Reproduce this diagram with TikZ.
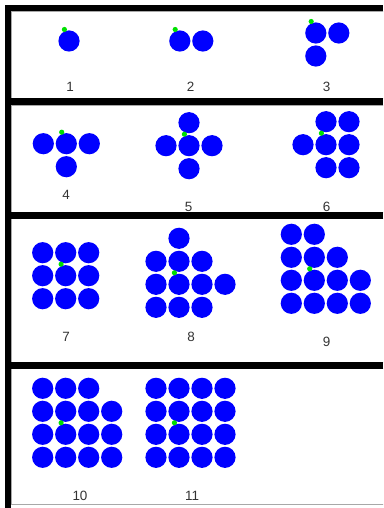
\documentclass[tikz,border=0pt]{standalone}
\usepackage{fontspec}
\setmainfont{Liberation Sans}
\usetikzlibrary{positioning}
\definecolor{cell}{HTML}{0000FF}
\definecolor{seed}{HTML}{00E000}
\definecolor{frame}{HTML}{000000}
\definecolor{edge}{HTML}{A8A8A8}
\definecolor{digit}{HTML}{333333}

\begin{document}
\begin{tikzpicture}[x=1bp,y=-1bp,
    disc/.style={fill=cell},
    dot/.style={fill=seed},
    lbl/.style={font=\fontsize{13.5}{16}\selectfont,text=digit,inner sep=0pt}]
  \useasboundingbox (0,0) rectangle (383,508);
  \clip (0,0) rectangle (383,508);

  % Panels
  \draw[edge,line width=0.8bp] (11,11) rectangle (390,98.5);
  \draw[edge,line width=0.8bp] (11,105.5) rectangle (390,212.3);
  \draw[edge,line width=0.8bp] (11,218.5) rectangle (390,362);
  \draw[edge,line width=0.8bp] (11,368.5) rectangle (390,504.3);

  % Frame bars
  \fill[frame] (5,5) rectangle (11,508);
  \fill[frame] (5,5) rectangle (383,11);
  \fill[frame] (5,98.5) rectangle (383,105.5);
  \fill[frame] (5,212.3) rectangle (383,218.5);
  \fill[frame] (5,362) rectangle (383,368.5);

  % Step 1
  \begin{scope}[shift={(69,41)},x=23bp,y=-23bp]
    \foreach \i/\j in {0/0}
      \fill[disc] (\i,\j) circle[radius=10.6bp];
    \fill[dot] (-0.2,-0.5) circle[radius=2.6bp];
  \end{scope}
  \node[lbl] (n1) at (70,87.3) {1};

  % Step 2
  \begin{scope}[shift={(179.8,41)},x=23bp,y=-23bp]
    \foreach \i/\j in {0/0,1/0}
      \fill[disc] (\i,\j) circle[radius=10.6bp];
    \fill[dot] (-0.2,-0.5) circle[radius=2.6bp];
  \end{scope}
  \node[lbl] (n2) at (190.7,87.3) {2};

  % Step 3
  \begin{scope}[shift={(315.8,33)},x=23bp,y=-23bp]
    \foreach \i/\j in {0/0,1/0,0/1}
      \fill[disc] (\i,\j) circle[radius=10.6bp];
    \fill[dot] (-0.2,-0.5) circle[radius=2.6bp];
  \end{scope}
  \node[lbl] (n3) at (326.7,87.3) {3};

  % Step 4
  \begin{scope}[shift={(66.3,143.7)},x=23bp,y=-23bp]
    \foreach \i/\j in {-1/0,0/0,1/0,0/1}
      \fill[disc] (\i,\j) circle[radius=10.6bp];
    \fill[dot] (-0.2,-0.5) circle[radius=2.6bp];
  \end{scope}
  \node[lbl] (n4) at (66,195) {4};

  % Step 5
  \begin{scope}[shift={(189,145.7)},x=23bp,y=-23bp]
    \foreach \i/\j in {0/-1,-1/0,0/0,1/0,0/1}
      \fill[disc] (\i,\j) circle[radius=10.6bp];
    \fill[dot] (-0.2,-0.5) circle[radius=2.6bp];
  \end{scope}
  \node[lbl] (n5) at (188.7,207.3) {5};

  % Step 6
  \begin{scope}[shift={(326,144.7)},x=23bp,y=-23bp]
    \foreach \i/\j in {0/-1,1/-1,-1/0,0/0,1/0,0/1,1/1}
      \fill[disc] (\i,\j) circle[radius=10.6bp];
    \fill[dot] (-0.2,-0.5) circle[radius=2.6bp];
  \end{scope}
  \node[lbl] (n6) at (326.7,207.3) {6};

  % Step 7
  \begin{scope}[shift={(65.7,275.7)},x=23bp,y=-23bp]
    \foreach \i in {-1,0,1}
      \foreach \j in {-1,0,1}
        \fill[disc] (\i,\j) circle[radius=10.6bp];
    \fill[dot] (-0.2,-0.5) circle[radius=2.6bp];
  \end{scope}
  \node[lbl] (n7) at (66,337.3) {7};

  % Step 8
  \begin{scope}[shift={(179,284.3)},x=23bp,y=-23bp]
    \foreach \i/\j in {0/-2,-1/-1,0/-1,1/-1,-1/0,0/0,1/0,2/0,-1/1,0/1,1/1}
      \fill[disc] (\i,\j) circle[radius=10.6bp];
    \fill[dot] (-0.2,-0.5) circle[radius=2.6bp];
  \end{scope}
  \node[lbl] (n8) at (191,336.7) {8};

  % Step 9
  \begin{scope}[shift={(314.3,280.3)},x=23bp,y=-23bp]
    \foreach \i/\j in {-1/-2,0/-2,-1/-1,0/-1,1/-1,-1/0,0/0,1/0,2/0,-1/1,0/1,1/1,2/1}
      \fill[disc] (\i,\j) circle[radius=10.6bp];
    \fill[dot] (-0.2,-0.5) circle[radius=2.6bp];
  \end{scope}
  \node[lbl] (n9) at (326.7,341.7) {9};

  % Step 10
  \begin{scope}[shift={(65.7,434.3)},x=23bp,y=-23bp]
    \foreach \i in {-1,0,1}
      \fill[disc] (\i,-2) circle[radius=10.6bp];
    \foreach \i in {-1,0,1,2}
      \foreach \j in {-1,0,1}
        \fill[disc] (\i,\j) circle[radius=10.6bp];
    \fill[dot] (-0.2,-0.5) circle[radius=2.6bp];
  \end{scope}
  \node[lbl] (n10) at (80,496) {10};

  % Step 11
  \begin{scope}[shift={(179,434.3)},x=23bp,y=-23bp]
    \foreach \i in {-1,0,1,2}
      \foreach \j in {-2,-1,0,1}
        \fill[disc] (\i,\j) circle[radius=10.6bp];
    \fill[dot] (-0.2,-0.5) circle[radius=2.6bp];
  \end{scope}
  \node[lbl] (n11) at (192,496) {11};
\end{tikzpicture}
\end{document}
